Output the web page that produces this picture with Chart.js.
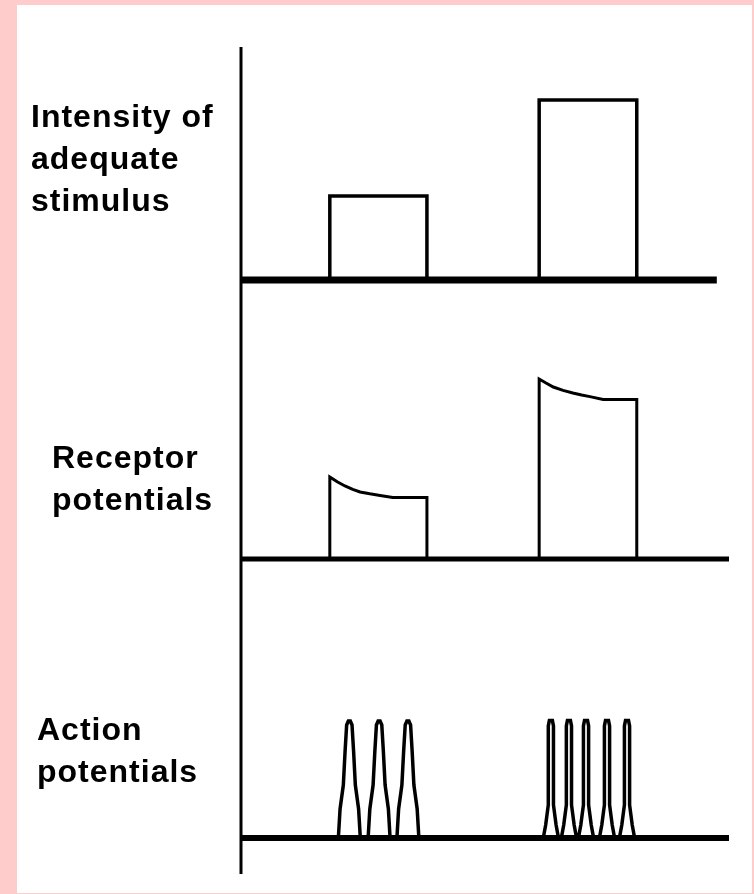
<!DOCTYPE html>
<html>
<head>
<meta charset="utf-8">
<title>Stimulus, receptor potentials and action potentials</title>
<script src="https://cdn.jsdelivr.net/npm/chart.js@4"></script>
<style>
    html, body {
        margin: 0;
        padding: 0;
        background: #FFCCCC;
    }
    #page {
        position: absolute;
        left: 17px;
        top: 5px;
        width: 735px;
        height: 888px;
        background: #FFFFFF;
    }
    canvas {
        position: absolute;
        left: 0;
        top: 0;
    }
    .label {
        position: absolute;
        font-family: "Liberation Sans", Arial, sans-serif;
        font-weight: bold;
        font-size: 32px;
        line-height: 42px;
        letter-spacing: 1px;
        color: #000;
        white-space: nowrap;
    }
</style>
</head>
<body>
<div id="page"></div>
<canvas id="stimulus-chart" width="754" height="894"></canvas>
<canvas id="receptor-chart" width="754" height="894"></canvas>
<canvas id="action-chart" width="754" height="894"></canvas>
<div class="label" style="left:31px; top:95px;">Intensity of<br>adequate<br>stimulus</div>
<div class="label" style="left:52px; top:436px;">Receptor<br>potentials</div>
<div class="label" style="left:37px; top:708px;">Action<br>potentials</div>

<script>
// Time axis (arbitrary units) shared by all three panels
const timeRange = [0, 100];

// Two stimuli: start / end times
const weakStimulusTime = [18.2, 38.1];
const strongStimulusTime = [61.1, 81.1];

// Panel 1 - stimulus intensity
const stimulusRange = [0, 11.65];
const stimulusIntensity = [4.2, 9.0];
const stimulusBaselineEnd = 97.5;

// Panel 2 - receptor potentials (time, amplitude) read along the decay
const receptorRange = [0, 13.95];
const weakReceptorTimes = [18.2, 19.8, 21.3, 22.9, 24.4, 26.4, 28.5, 31.1, 38.1];
const weakReceptorValues = [4.1, 3.85, 3.65, 3.48, 3.35, 3.26, 3.18, 3.08, 3.08];
const strongReceptorTimes = [61.1, 62.5, 64.0, 66.0, 68.0, 69.8, 71.5, 74.2, 81.1];
const strongReceptorValues = [9.0, 8.8, 8.6, 8.43, 8.3, 8.2, 8.12, 7.98, 7.98];

// Panel 3 - action potentials
const actionRange = [-1.8, 13.95];
const weakSpikeTimes = [22.2, 28.3, 34.2];
const strongSpikeTimes = [63.5, 67.2, 70.7, 75.0, 79.1];

// Spike outlines: offset from spike time and amplitude
const wideSpikeOffsets = [-2.25, -1.9, -1.23, -0.88, -0.55, -0.2, 0.2, 0.55, 0.88, 1.23, 1.9, 2.25];
const wideSpikeHeights = [0, 1.45, 2.65, 4.3, 5.65, 5.85, 5.85, 5.65, 4.3, 2.65, 1.45, 0];
const narrowSpikeOffsets = [-1.56, -1.07, -0.53, -0.53, -0.31, 0.31, 0.53, 0.53, 1.07, 1.56];
const narrowSpikeHeights = [0, 0.65, 1.65, 5.6, 5.88, 5.88, 5.6, 1.65, 0.65, 0];

// Build a closed stimulus box
function boxPoints(times, height) {
    return [
        { x: times[0], y: 0 },
        { x: times[0], y: height },
        { x: times[1], y: height },
        { x: times[1], y: 0 }
    ];
}

// Build a receptor potential outline
function receptorPoints(times, values) {
    const points = [{ x: times[0], y: 0 }];
    times.forEach((t, i) => points.push({ x: t, y: values[i] }));
    points.push({ x: times[times.length - 1], y: 0 });
    return points;
}

// Build a spike train from spike times and the outline template
function spikeTrainPoints(times, offsets, heights) {
    const points = [];
    times.forEach(t => {
        offsets.forEach((dx, i) => points.push({ x: t + dx, y: heights[i] }));
    });
    return points;
}

function lineDataset(points, width) {
    return {
        data: points,
        borderColor: '#000000',
        borderWidth: width,
        pointRadius: 0,
        tension: 0,
        fill: false,
        clip: false
    };
}

// Creates one panel; padding positions the plot area on the page
function createPanel(canvasId, yRange, padding, datasets) {
    return new Chart(document.getElementById(canvasId), {
        type: 'line',
        data: { datasets: datasets },
        options: {
            responsive: false,
            animation: false,
            layout: { padding: padding },
            scales: {
                x: { type: 'linear', display: false, min: timeRange[0], max: timeRange[1] },
                y: { type: 'linear', display: false, min: yRange[0], max: yRange[1] }
            },
            plugins: {
                legend: { display: false },
                tooltip: { enabled: false }
            }
        }
    });
}

// Vertical axis segment for a panel
function axisPoints(yRange) {
    return [{ x: 0, y: yRange[0] }, { x: 0, y: yRange[1] }];
}

createPanel('stimulus-chart', stimulusRange, { left: 241, right: 25, top: 47, bottom: 614 }, [
    lineDataset(axisPoints(stimulusRange), 3),
    lineDataset([{ x: 0, y: 0 }, { x: stimulusBaselineEnd, y: 0 }], 7),
    lineDataset(boxPoints(weakStimulusTime, stimulusIntensity[0]), 3.5),
    lineDataset(boxPoints(strongStimulusTime, stimulusIntensity[1]), 3.5)
]);

createPanel('receptor-chart', receptorRange, { left: 241, right: 25, top: 280, bottom: 335 }, [
    lineDataset(axisPoints(receptorRange), 3),
    lineDataset([{ x: 0, y: 0 }, { x: timeRange[1], y: 0 }], 5),
    lineDataset(receptorPoints(weakReceptorTimes, weakReceptorValues), 3),
    lineDataset(receptorPoints(strongReceptorTimes, strongReceptorValues), 3)
]);

createPanel('action-chart', actionRange, { left: 241, right: 25, top: 559, bottom: 20 }, [
    lineDataset(axisPoints(actionRange), 3),
    lineDataset([{ x: 0, y: 0 }, { x: timeRange[1], y: 0 }], 6),
    lineDataset(spikeTrainPoints(weakSpikeTimes, wideSpikeOffsets, wideSpikeHeights), 3.5),
    lineDataset(spikeTrainPoints(strongSpikeTimes, narrowSpikeOffsets, narrowSpikeHeights), 3.5)
]);
</script>
</body>
</html>
